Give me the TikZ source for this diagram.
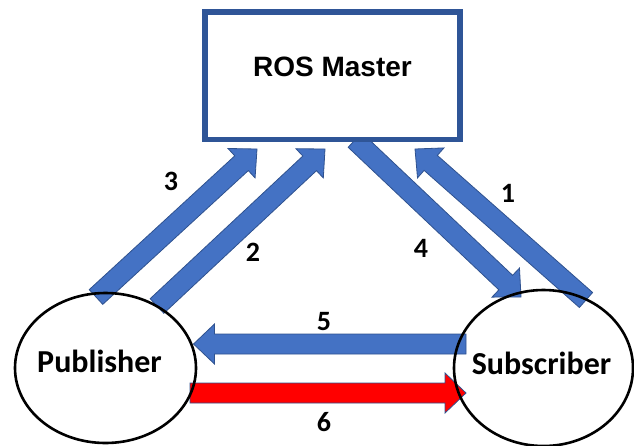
\documentclass[tikz,border=0pt]{standalone}
\usepackage{fontspec}
\setmainfont{Carlito}
\newfontfamily\arialfont{Liberation Sans}
\usetikzlibrary{calc,shapes.geometric}

\definecolor{arrowblue}{HTML}{4472C4}
\definecolor{edgeblue}{HTML}{2F528F}
\definecolor{boxblue}{HTML}{2F5597}
\definecolor{pushred}{HTML}{FF0000}

% half shaft width, half head width, head length
\newcommand{\shafthalf}{10pt}
\newcommand{\headhalf}{20pt}
\newcommand{\headlen}{21pt}

% block arrow from coordinate #2 (tail) to coordinate #3 (tip)
\newcommand{\blockarrow}[3][]{%
  \filldraw[blockarrowstyle,#1]
    ($(#2)!\shafthalf!90:(#3)$)
    -- ($(#3)!\headlen!(#2)!\shafthalf!90:(#3)$)
    -- ($(#3)!\headlen!(#2)!\headhalf!90:(#3)$)
    -- (#3)
    -- ($(#3)!\headlen!(#2)!\headhalf!-90:(#3)$)
    -- ($(#3)!\headlen!(#2)!\shafthalf!-90:(#3)$)
    -- ($(#2)!\shafthalf!-90:(#3)$)
    -- cycle;}

\tikzset{
  blockarrowstyle/.style={fill=arrowblue, draw=edgeblue, line width=0.8pt, line join=miter},
  redarrow/.style={fill=pushred, draw=edgeblue},
  masterbox/.style={draw=boxblue, fill=white, line width=5.5pt, rectangle,
    minimum width=255pt, minimum height=127.5pt, inner sep=0pt},
  nodeellipse/.style={draw=black, line width=2.6pt, ellipse, inner sep=0pt},
  nodetext/.style={font=\bfseries\fontsize{32}{36}\selectfont, inner sep=0pt, anchor=base},
  numlabel/.style={font=\bfseries\fontsize{28}{32}\selectfont, inner sep=0pt},
}

\begin{document}
\begin{tikzpicture}[x=1pt, y=-1pt]
\useasboundingbox (0,0) rectangle (634,445);

% arrow end points
\coordinate (a3t) at (96,297);   \coordinate (a3h) at (257,149);
\coordinate (a2t) at (157,306);  \coordinate (a2h) at (325,149);
\coordinate (a4t) at (355,140);  \coordinate (a4h) at (521,297);
\coordinate (a1t) at (586,300);  \coordinate (a1h) at (415,149);
\coordinate (a5t) at (466,344);  \coordinate (a5h) at (193.5,344);
\coordinate (a6t) at (190,393);  \coordinate (a6h) at (466,393);

% message arrows
\blockarrow{a3t}{a3h}
\blockarrow{a2t}{a2h}
\blockarrow{a4t}{a4h}
\blockarrow{a1t}{a1h}
\blockarrow{a5t}{a5h}
\blockarrow[redarrow]{a6t}{a6h}

% master
\node[masterbox] (master) at (332.5,75.75) {};
\node[font=\arialfont\bfseries\fontsize{28}{32}\selectfont, inner sep=0pt, anchor=base]
  (mastertext) at (332.5,76) {ROS Master};

% publisher and subscriber
\node[nodeellipse, minimum width=181pt, minimum height=150pt] (pub) at (105.5,368) {};
\node[nodeellipse, minimum width=179pt, minimum height=156pt] (sub) at (543.5,368) {};
\node[nodetext] (pubtext) at (99.5,372) {Publisher};
\node[nodetext] (subtext) at (541.5,374) {Subscriber};

% step numbers
\node[numlabel] (n3) at (171,181) {3};
\node[numlabel] (n2) at (253,252.5) {2};
\node[numlabel] (n4) at (421,248) {4};
\node[numlabel] (n1) at (508,193.5) {1};
\node[numlabel] (n5) at (324,322) {5};
\node[numlabel] (n6) at (324,422) {6};
\end{tikzpicture}
\end{document}
